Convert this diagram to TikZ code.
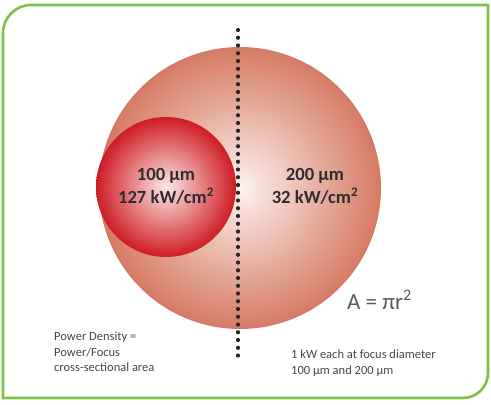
\documentclass[tikz,border=0pt]{standalone}
\usepackage{fontspec}
\setmainfont{Carlito}
\usetikzlibrary{positioning}
\definecolor{framegreen}{RGB}{124,193,66}
\definecolor{bigout}{RGB}{213,122,100}
\definecolor{bigin}{RGB}{253,242,238}
\definecolor{smallout}{RGB}{207,28,38}
\definecolor{smallin}{RGB}{252,232,228}
\definecolor{labeltext}{RGB}{45,45,45}
\definecolor{notetext}{RGB}{70,70,70}
\begin{document}
\begin{tikzpicture}[x=1pt,y=-1pt,
    spot/.style={font=\fontsize{18.6}{23}\selectfont\bfseries,text=labeltext,
                 align=center,inner sep=0pt},
    note/.style={font=\fontsize{12.5}{15.2}\selectfont,text=notetext,
                 align=left,inner sep=0pt},
    focusline/.style={line width=4.2pt,line cap=round,
                 dash pattern=on 0pt off 7.75pt,black!85}
  ]
    \useasboundingbox (0,0) rectangle (491,405);
    % frame
    \draw[framegreen,line width=2.6pt] (3,398) -- (3,33)
      arc[start angle=180,end angle=90,radius=28pt] -- (488,5) -- (488,373)
      arc[start angle=0,end angle=-90,radius=25pt] -- cycle;
    % focus spots
    \shade[inner color=bigin,outer color=bigout] (240,188) circle[radius=141pt];
    \shade[inner color=smallin,outer color=smallout] (166,187) circle[radius=70pt];
    \coordinate (ltop) at (238,30);
    \coordinate (lbot) at (238,358);
    \draw[focusline] (ltop) -- (lbot);
    \node[spot] (small) at (166,186) {100 µm\\127 kW/cm\textsuperscript{2}};
    \node[spot] (big) at (315,186) {200 µm\\32 kW/cm\textsuperscript{2}};
    \node[font=\fontsize{23}{25}\selectfont,text=black!65,anchor=west,inner sep=0pt]
      (area) at (347,300) {A = πr\textsuperscript{2}};
    \node[note,anchor=north west] (density) at (54,332)
      {Power Density =\\Power/Focus\\cross-sectional area};
    \node[note,anchor=north west] (each) at (291,350)
      {1 kW each at focus diameter\\100 µm and 200 µm};
  \end{tikzpicture}
\end{document}
